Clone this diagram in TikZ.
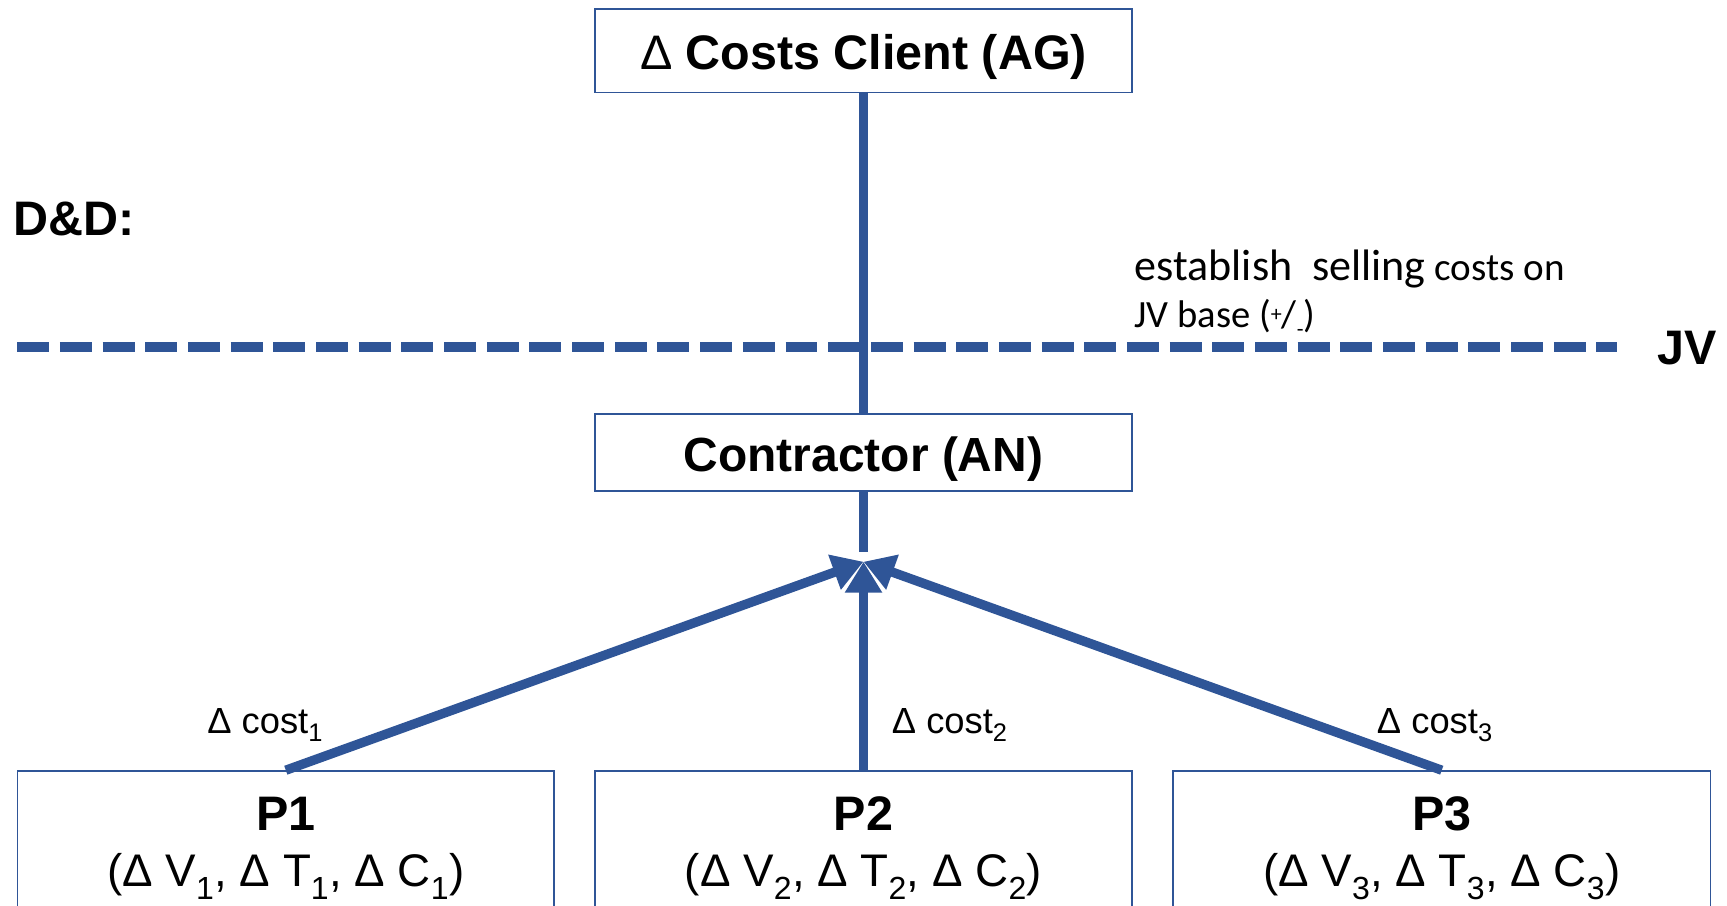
\documentclass[tikz,border=0pt]{standalone}
\usepackage{fontspec}
\setmainfont{Liberation Sans}
\newfontfamily\calfont{Carlito}
\usetikzlibrary{arrows.meta}
\definecolor{bl}{RGB}{47,85,151}
\tikzset{
  box/.style={draw=bl, line width=1.4pt, rectangle, inner sep=0pt, minimum width=488pt},
  conn/.style={draw=bl, line width=8.5pt},
  arr/.style={conn, -{Triangle[length=28pt,width=32pt]}},
  big/.style={font=\bfseries\fontsize{44}{50}\selectfont, anchor=base, inner sep=0pt},
  reg/.style={font=\fontsize{41.5}{50}\selectfont, anchor=base, inner sep=0pt},
  lbl/.style={font=\fontsize{33}{38}\selectfont, anchor=base west, inner sep=0pt},
}
\begin{document}
\begin{tikzpicture}[x=1pt,y=-1pt]
\useasboundingbox (0,0) rectangle (1568,822);
% boxes
\node[box, minimum height=76pt] (AG) at (784,46) {};
\node[box, minimum height=70pt] (AN) at (784,411) {};
\node[box, minimum height=130pt, minimum width=487pt] (P1) at (259.5,765) {};
\node[box, minimum height=130pt] (P2) at (784,765) {};
\node[box, minimum height=130pt] (P3) at (1309,765) {};
% dashed JV line
\coordinate (dL) at (15.7,315);
\coordinate (dR) at (1468,315);
\draw[draw=bl, line width=9.7pt, dash pattern=on 29pt off 9.75pt] (dL) -- (dR);
% connectors
\draw[conn] (AG.south) -- (AN.north);
\coordinate (stub) at (784,501);
\coordinate (tip) at (784,510);
\draw[conn] (AN.south) -- (stub);
\draw[arr] (P1.north) -- (tip);
\draw[arr] (P2.north) -- (tip);
\draw[arr] (P3.north) -- (tip);
% texts
\node[big] (tAG) at (784,63.5) {{\mdseries Δ} Costs Client (AG)};
\node[big, font=\bfseries\fontsize{43.5}{50}\selectfont] (tAN) at (784,428) {Contractor (AN)};
\node[big, anchor=base west] (tDD) at (12,214) {D\&D:};
\node[big, anchor=base west] (tJV) at (1505,331) {JV};
\node[anchor=base west, inner sep=0pt] (est1) at (1030,255) {\calfont{\fontsize{40}{48}\selectfont establish\ \ selling}{\fontsize{35.5}{42}\selectfont\ costs on}};
\node[anchor=base west, inner sep=0pt, font=\calfont\fontsize{35}{42}\selectfont] (est2) at (1030,297) {JV base (\raisebox{0.15em}{\fontsize{20}{24}\selectfont +}/\raisebox{-0.25em}{\fontsize{20}{24}\selectfont -})};
\node[big] (tP1) at (259.5,754) {P1};
\node[big] (tP2) at (784,754) {P2};
\node[big] (tP3) at (1309,754) {P3};
\node[reg] (vP1) at (259.5,805) {(Δ V\textsubscript{1}, Δ T\textsubscript{1}, Δ C\textsubscript{1})};
\node[reg] (vP2) at (784,805) {(Δ V\textsubscript{2}, Δ T\textsubscript{2}, Δ C\textsubscript{2})};
\node[reg] (vP3) at (1309,805) {(Δ V\textsubscript{3}, Δ T\textsubscript{3}, Δ C\textsubscript{3})};
\node[lbl] (c1) at (188,666) {Δ cost\textsubscript{1}};
\node[lbl] (c2) at (809.6,666) {Δ cost\textsubscript{2}};
\node[lbl] (c3) at (1250,666) {Δ cost\textsubscript{3}};
\end{tikzpicture}
\end{document}
